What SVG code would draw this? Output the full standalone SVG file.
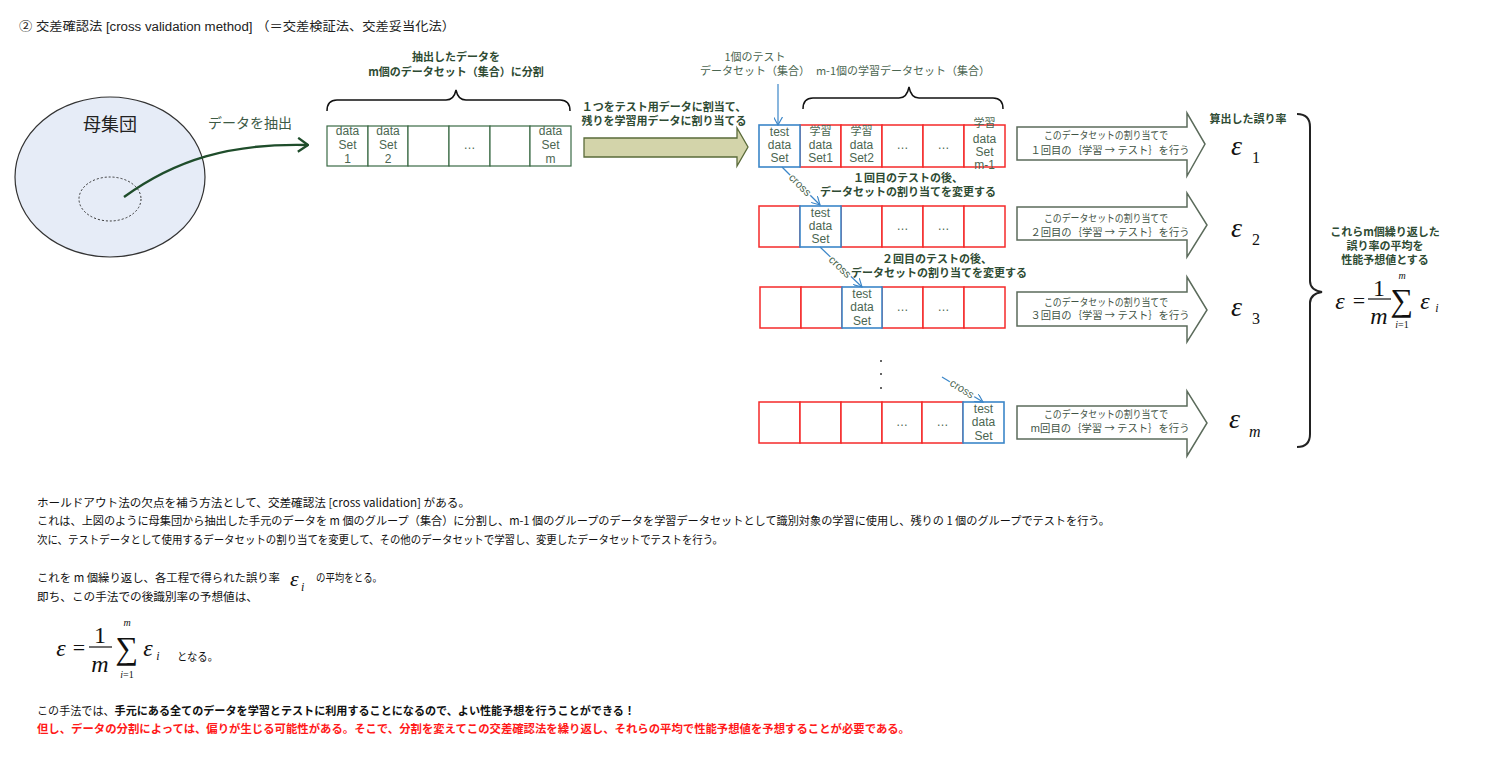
<svg xmlns="http://www.w3.org/2000/svg" width="1486" height="760" viewBox="0 0 1486 760">
<style>
text{font-family:"Liberation Sans","Noto Sans CJK JP",sans-serif;}
.jp{font-family:"Noto Sans CJK JP",sans-serif;}
.lbl{font-family:"Noto Sans CJK JP",sans-serif;font-size:11px;font-weight:bold;fill:#2e4b33;text-anchor:middle;}
.sub{font-family:"Noto Sans CJK JP",sans-serif;font-size:11px;fill:#4b6651;text-anchor:middle;}
.box{font-size:12px;fill:#4b6651;text-anchor:middle;}
.boxjp{font-family:"Noto Sans CJK JP",sans-serif;font-size:11px;fill:#4b6651;text-anchor:middle;}
.arrtx{font-family:"Noto Sans CJK JP",sans-serif;font-size:10.5px;fill:#3f5345;text-anchor:middle;}
.body{font-family:"Noto Sans CJK JP",sans-serif;font-size:11.5px;fill:#111;}
.warn{font-family:"Noto Sans CJK JP",sans-serif;font-size:11.5px;font-weight:bold;fill:#ff1a1a;}
.math{font-family:"Liberation Serif",serif;fill:#111;}
.gcell{fill:#fff;stroke:#3a6a45;stroke-width:1.2;}
.rcell{fill:#fff;stroke:#f52a2a;stroke-width:1.5;}
.bcell{fill:#fff;stroke:#3b86c8;stroke-width:1.6;}
.rarrow{fill:#fff;stroke:#5b6b5b;stroke-width:1.5;}
.brace{fill:none;stroke:#111;stroke-width:1.5;}
.cross{font-size:11px;fill:#4b6651;text-anchor:middle;stroke:#fff;stroke-width:3;paint-order:stroke;}
.blue{stroke:#3b86c8;stroke-width:1.2;fill:none;}
</style>
<defs>
<marker id="bh" viewBox="0 0 10 10" refX="9" refY="5" markerWidth="9" markerHeight="9" markerUnits="userSpaceOnUse" orient="auto">
<path d="M0,0 L9,5 L0,10" fill="none" stroke="#3b86c8" stroke-width="1.3"/>
</marker>
<marker id="gh" viewBox="0 0 12 16" refX="11" refY="8" markerWidth="12" markerHeight="16" markerUnits="userSpaceOnUse" orient="auto">
<path d="M1,1 L11,8 L1,15" fill="none" stroke="#1f4d2b" stroke-width="2.2"/>
</marker>
</defs>

<text x="19" y="31" font-size="12.5" fill="#222" textLength="436" lengthAdjust="spacingAndGlyphs">② 交差確認法 [cross validation method] （＝交差検証法、交差妥当化法）</text>

<g id="population">
<ellipse cx="110" cy="177" rx="95" ry="80" fill="#e6ecf7" stroke="#333" stroke-width="1.2"/>
<ellipse cx="110" cy="199" rx="31" ry="22" fill="none" stroke="#333" stroke-width="1" stroke-dasharray="2,2"/>
<text x="110" y="131" font-size="18" fill="#222" text-anchor="middle" class="jp">母集団</text>
</g>

<g id="datasets">
<rect class="gcell" x="327" y="126" width="41" height="40"/>
<rect class="gcell" x="368" y="126" width="40" height="40"/>
<rect class="gcell" x="408" y="126" width="41" height="40"/>
<rect class="gcell" x="449" y="126" width="41" height="40"/>
<rect class="gcell" x="490" y="126" width="40" height="40"/>
<rect class="gcell" x="530" y="126" width="41" height="40"/>
<text class="box" x="347.5" y="135">data</text><text class="box" x="347.5" y="149">Set</text><text class="box" x="347.5" y="163">1</text>
<text class="box" x="388" y="135">data</text><text class="box" x="388" y="149">Set</text><text class="box" x="388" y="163">2</text>
<text class="box" x="469.5" y="149">…</text>
<text class="box" x="550.5" y="135">data</text><text class="box" x="550.5" y="149">Set</text><text class="box" x="550.5" y="163">m</text>
<path class="brace" d="M327,111 Q327,100 337,100 L446,100 Q454,100 456,90 Q458,100 466,100 L560,100 Q570,100 570,111"/>
<text class="lbl" x="456" y="61">抽出したデータを</text>
<text class="lbl" x="456" y="76">m個のデータセット（集合）に分割</text>
</g>

<g id="split-arrow">
<polygon points="584,138 737,138 737,128 748,147 737,166 737,157 584,157" fill="#d3d4aa" stroke="#5a6b3a" stroke-width="1.3"/>
<text class="lbl" x="664" y="111">１つをテスト用データに割当て、</text>
<text class="lbl" x="664" y="125">残りを学習用データに割り当てる</text>
</g>

<g id="row1">
<rect class="rcell" x="800" y="125" width="41" height="42"/>
<rect class="rcell" x="841" y="125" width="41" height="42"/>
<rect class="rcell" x="882" y="125" width="41" height="42"/>
<rect class="rcell" x="923" y="125" width="41" height="42"/>
<rect class="rcell" x="964" y="125" width="41" height="42"/>
<rect class="bcell" x="759" y="125" width="41" height="42"/>
<text class="box" x="779.5" y="136">test</text><text class="box" x="779.5" y="149">data</text><text class="box" x="779.5" y="162">Set</text>
<text class="boxjp" x="820.5" y="135">学習</text><text class="box" x="820.5" y="149">data</text><text class="box" x="820.5" y="162">Set1</text>
<text class="boxjp" x="861.5" y="135">学習</text><text class="box" x="861.5" y="149">data</text><text class="box" x="861.5" y="162">Set2</text>
<text class="box" x="902.5" y="149">…</text>
<text class="box" x="943.5" y="149">…</text>
<text class="boxjp" x="984.5" y="127">学習</text><text class="box" x="984.5" y="143">data</text><text class="box" x="984.5" y="156">Set</text><text class="box" x="984.5" y="169">m-1</text>
</g>

<g id="row1-labels">
<text class="sub" x="755" y="61">1個のテスト</text>
<text class="sub" x="755" y="75">データセット（集合）</text>
<text class="sub" x="903" y="75">m-1個の学習データセット（集合）</text>
<path class="brace" d="M803,109 Q803,98 813,98 L899,98 Q907,98 909,87 Q911,98 919,98 L993,98 Q1003,98 1003,109"/>
</g>

<g id="row2">
<rect class="rcell" x="759" y="206" width="41" height="41"/>
<rect class="rcell" x="841" y="206" width="41" height="41"/>
<rect class="rcell" x="882" y="206" width="41" height="41"/>
<rect class="rcell" x="923" y="206" width="41" height="41"/>
<rect class="rcell" x="964" y="206" width="41" height="41"/>
<rect class="bcell" x="800" y="206" width="41" height="41"/>
<text class="box" x="820.5" y="217">test</text><text class="box" x="820.5" y="230">data</text><text class="box" x="820.5" y="243">Set</text>
<text class="box" x="902.5" y="230">…</text>
<text class="box" x="943.5" y="230">…</text>
<text class="lbl" x="908" y="182">１回目のテストの後、</text>
<text class="lbl" x="908" y="196">データセットの割り当てを変更する</text>
</g>

<g id="row3">
<rect class="rcell" x="760" y="287" width="41" height="41"/>
<rect class="rcell" x="801" y="287" width="41" height="41"/>
<rect class="rcell" x="882" y="287" width="41" height="41"/>
<rect class="rcell" x="923" y="287" width="41" height="41"/>
<rect class="rcell" x="964" y="287" width="41" height="41"/>
<rect class="bcell" x="842" y="287" width="40" height="41"/>
<text class="box" x="862" y="298">test</text><text class="box" x="862" y="311">data</text><text class="box" x="862" y="325">Set</text>
<text class="box" x="902.5" y="311">…</text>
<text class="box" x="943.5" y="311">…</text>
<text class="lbl" x="937" y="263">２回目のテストの後、</text>
<text class="lbl" x="939" y="277">データセットの割り当てを変更する</text>
</g>

<g id="dots" fill="#333">
<circle cx="881" cy="361" r="1"/>
<circle cx="881" cy="374" r="1"/>
<circle cx="881" cy="388" r="1"/>
</g>

<g id="rowm">
<rect class="rcell" x="759" y="402" width="41" height="41"/>
<rect class="rcell" x="800" y="402" width="41" height="41"/>
<rect class="rcell" x="841" y="402" width="41" height="41"/>
<rect class="rcell" x="882" y="402" width="40" height="41"/>
<rect class="rcell" x="922" y="402" width="41" height="41"/>
<rect class="bcell" x="963" y="402" width="41" height="41"/>
<text class="box" x="983.5" y="413">test</text><text class="box" x="983.5" y="426">data</text><text class="box" x="983.5" y="440">Set</text>
<text class="box" x="902" y="426">…</text>
<text class="box" x="942.5" y="426">…</text>
</g>

<g id="connectors">
<path d="M124,197 C175,160 230,143 308,145" fill="none" stroke="#1f4d2b" stroke-width="2.4" marker-end="url(#gh)"/>
<line class="blue" x1="778" y1="84" x2="778" y2="125" marker-end="url(#bh)"/>
<line class="blue" x1="782" y1="167" x2="820" y2="205" marker-end="url(#bh)"/>
<line class="blue" x1="820" y1="247" x2="862" y2="287" marker-end="url(#bh)"/>
<line class="blue" x1="942" y1="377" x2="983" y2="402" marker-end="url(#bh)"/>
<text class="cross" transform="translate(800,185) rotate(45)" dy="3.5">cross</text>
<text class="cross" transform="translate(840,267) rotate(44)" dy="3.5">cross</text>
<text class="cross" transform="translate(962,389) rotate(32)" dy="3.5">cross</text>
</g>

<text x="250" y="128" font-size="14" fill="#3d5a45" text-anchor="middle" class="jp">データを抽出</text>

<g id="arrow1">
<polygon class="rarrow" points="1017,127 1187,127 1187,113 1205,144 1187,176 1187,160 1017,160"/>
<text class="arrtx" x="1106" y="139" textLength="124" lengthAdjust="spacingAndGlyphs">このデータセットの割り当てで</text>
<text class="arrtx" x="1110" y="154" textLength="159" lengthAdjust="spacingAndGlyphs">１回目の｛学習 → テスト｝を行う</text>
</g>
<g id="arrow2">
<polygon class="rarrow" points="1017,207 1187,207 1187,193 1207,225 1187,257 1187,240 1017,240"/>
<text class="arrtx" x="1106" y="222" textLength="124" lengthAdjust="spacingAndGlyphs">このデータセットの割り当てで</text>
<text class="arrtx" x="1110" y="236" textLength="159" lengthAdjust="spacingAndGlyphs">２回目の｛学習 → テスト｝を行う</text>
</g>
<g id="arrow3">
<polygon class="rarrow" points="1017,292 1187,292 1187,277 1207,310 1187,342 1187,326 1017,326"/>
<text class="arrtx" x="1106" y="306" textLength="124" lengthAdjust="spacingAndGlyphs">このデータセットの割り当てで</text>
<text class="arrtx" x="1110" y="319" textLength="159" lengthAdjust="spacingAndGlyphs">３回目の｛学習 → テスト｝を行う</text>
</g>
<g id="arrowm">
<polygon class="rarrow" points="1017,406 1187,406 1187,391 1207,423 1187,456 1187,439 1017,439"/>
<text class="arrtx" x="1106" y="418" textLength="124" lengthAdjust="spacingAndGlyphs">このデータセットの割り当てで</text>
<text class="arrtx" x="1110" y="432" textLength="159" lengthAdjust="spacingAndGlyphs">m回目の｛学習 → テスト｝を行う</text>
</g>

<g id="errors">
<text class="lbl" x="1248" y="123">算出した誤り率</text>
<text class="math" x="1231" y="155" font-size="28" font-style="italic">ε</text><text class="math" x="1252" y="163" font-size="16">1</text>
<text class="math" x="1231" y="237" font-size="28" font-style="italic">ε</text><text class="math" x="1252" y="245" font-size="16">2</text>
<text class="math" x="1231" y="316" font-size="28" font-style="italic">ε</text><text class="math" x="1252" y="324" font-size="16">3</text>
<text class="math" x="1229" y="428" font-size="28" font-style="italic">ε</text><text class="math" x="1249" y="437" font-size="16" font-style="italic">m</text>
</g>

<g id="average">
<path d="M1297,114 Q1310,114 1310,127 L1310,281 Q1310,290 1322,292 Q1310,294 1310,303 L1310,434 Q1310,447 1297,447" fill="none" stroke="#222" stroke-width="2"/>
<text class="lbl" x="1385" y="236">これらm個繰り返した</text>
<text class="lbl" x="1385" y="250">誤り率の平均を</text>
<text class="lbl" x="1385" y="264">性能予想値とする</text>
<text class="math" x="1340" y="309" font-size="24" font-style="italic" text-anchor="middle">ε</text>
<text class="math" x="1359" y="308" font-size="22" text-anchor="middle">=</text>
<text class="math" x="1379" y="296" font-size="24" text-anchor="middle">1</text>
<line x1="1368" y1="299" x2="1391" y2="299" stroke="#111" stroke-width="1.2"/>
<text class="math" x="1379" y="324" font-size="24" font-style="italic" text-anchor="middle">m</text>
<text class="math" x="1402" y="311" font-size="32" text-anchor="middle">∑</text>
<text class="math" x="1402" y="279" font-size="10" font-style="italic" text-anchor="middle">m</text>
<text class="math" x="1402" y="328" font-size="10" text-anchor="middle"><tspan font-style="italic">i</tspan>=1</text>
<text class="math" x="1425" y="309" font-size="24" font-style="italic" text-anchor="middle">ε</text>
<text class="math" x="1437" y="312" font-size="12" font-style="italic" text-anchor="middle">i</text>
</g>

<g id="body">
<text class="body" x="37" y="507" textLength="433" lengthAdjust="spacingAndGlyphs">ホールドアウト法の欠点を補う方法として、交差確認法 [cross validation] がある。</text>
<text class="body" x="37" y="525" textLength="1073" lengthAdjust="spacingAndGlyphs">これは、上図のように母集団から抽出した手元のデータを m 個のグループ（集合）に分割し、m-1 個のグループのデータを学習データセットとして識別対象の学習に使用し、残りの 1 個のグループでテストを行う。</text>
<text class="body" x="37" y="544" textLength="686" lengthAdjust="spacingAndGlyphs">次に、テストデータとして使用するデータセットの割り当てを変更して、その他のデータセットで学習し、変更したデータセットでテストを行う。</text>
<text class="body" x="37" y="582" textLength="243" lengthAdjust="spacingAndGlyphs">これを m 個繰り返し、各工程で得られた誤り率</text>
<text class="math" x="290" y="586" font-size="22" font-style="italic">ε</text><text class="math" x="301" y="591" font-size="12" font-style="italic">i</text>
<text class="body" x="316" y="582" textLength="66" lengthAdjust="spacingAndGlyphs">の平均をとる。</text>
<text class="body" x="37" y="601" textLength="221" lengthAdjust="spacingAndGlyphs">即ち、この手法での後識別率の予想値は、</text>
<text class="math" x="61" y="656" font-size="24" font-style="italic" text-anchor="middle">ε</text>
<text class="math" x="79" y="655" font-size="22" text-anchor="middle">=</text>
<text class="math" x="100" y="643" font-size="24" text-anchor="middle">1</text>
<line x1="89" y1="647" x2="112" y2="647" stroke="#111" stroke-width="1.2"/>
<text class="math" x="100" y="672" font-size="24" font-style="italic" text-anchor="middle">m</text>
<text class="math" x="127" y="659" font-size="32" text-anchor="middle">∑</text>
<text class="math" x="127" y="626" font-size="10" font-style="italic" text-anchor="middle">m</text>
<text class="math" x="127" y="678" font-size="10" text-anchor="middle"><tspan font-style="italic">i</tspan>=1</text>
<text class="math" x="148" y="656" font-size="24" font-style="italic" text-anchor="middle">ε</text>
<text class="math" x="158" y="660" font-size="12" font-style="italic" text-anchor="middle">i</text>
<text class="body" x="177" y="661" textLength="41" lengthAdjust="spacingAndGlyphs">となる。</text>
<text class="body" x="37" y="715" textLength="598" lengthAdjust="spacingAndGlyphs">この手法では、<tspan font-weight="bold">手元にある全てのデータを学習とテストに利用することになるので、よい性能予想を行うことができる！</tspan></text>
<text class="warn" x="37" y="733" textLength="873" lengthAdjust="spacingAndGlyphs">但し、データの分割によっては、偏りが生じる可能性がある。そこで、分割を変えてこの交差確認法を繰り返し、それらの平均で性能予想値を予想することが必要である。</text>
</g>
</svg>
